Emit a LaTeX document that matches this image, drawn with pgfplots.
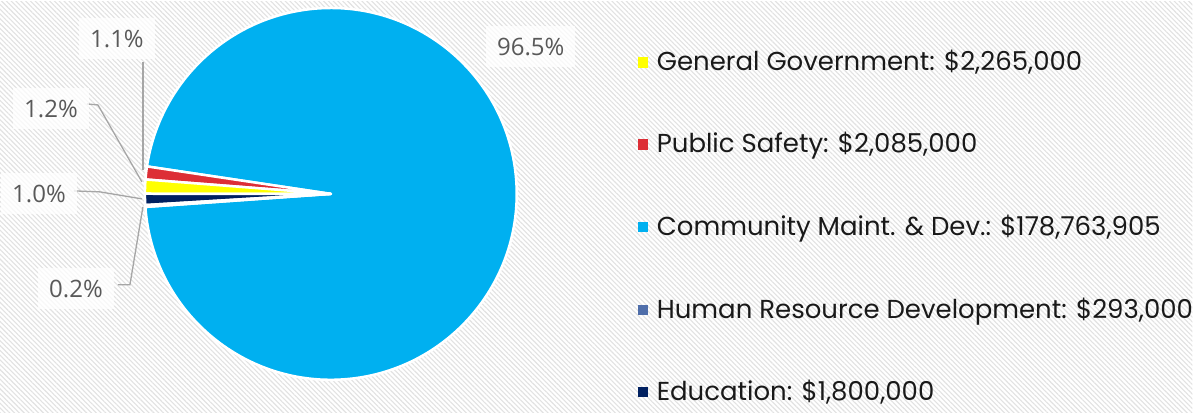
\documentclass[border=0pt]{standalone}
\usepackage{fontspec}
\setmainfont{Poppins}
\newfontfamily\lblfont{Open Sans}
\usepackage{pgfplots}
\usepackage{pgfplotstable}
\pgfplotsset{compat=1.18}
\usetikzlibrary{patterns.meta}

\definecolor{ggcol}{RGB}{255,255,0}
\definecolor{pscol}{RGB}{221,46,54}
\definecolor{cmdcol}{RGB}{0,176,240}
\definecolor{hrcol}{RGB}{79,110,170}
\definecolor{edcol}{RGB}{0,32,96}
\definecolor{lblgray}{RGB}{89,89,89}
\definecolor{leader}{RGB}{166,166,166}
\definecolor{stripe}{RGB}{226,226,226}

% slices in counter-clockwise order, starting at the top of the small group
\pgfplotstableread{
item value
PS 2085000
GG 2265000
Ed 1800000
HR 293000
CMD 178763905
}\budget

% cumulative angles (fpu, the amounts are too big for pgfmath)
\pgfkeys{/pgf/fpu=true,/pgf/fpu/output format=fixed}
\gdef\total{0}
\pgfplotstableforeachcolumnelement{value}\of\budget\as\cell{%
  \pgfmathparse{\total+\cell}\xdef\total{\pgfmathresult}}
\gdef\ang{171.5}
\pgfplotstableforeachcolumnelement{value}\of\budget\as\cell{%
  \pgfmathparse{\ang+360*\cell/\total}\xdef\ang{\pgfmathresult}%
  \expandafter\xdef\csname pieend\pgfplotstablerow\endcsname{\ang}}
\pgfkeys{/pgf/fpu=false}
\newcommand\pieend[1]{\csname pieend#1\endcsname}

\newcommand\slice[3]{%
  \filldraw[fill=#3, draw=white, line width=2.5bp, line join=round]
    (axis cs:331,219) -- ++(#1:186bp) arc[start angle=#1, end angle=#2, radius=186bp] -- cycle;}

\tikzset{pct/.style={fill=white, fill opacity=0.75, text opacity=1, text=lblgray,
    font=\lblfont\fontsize{24bp}{28bp}\selectfont, text height=17bp, text depth=0pt,
    inner xsep=11bp, inner ysep=12bp},
  leg/.style={anchor=base west, text=black!90, font=\fontsize{26bp}{30bp}\selectfont, inner sep=0pt}}

\begin{document}
\begin{tikzpicture}
\begin{axis}[
    width=1193bp, height=411bp, scale only axis,
    xmin=0, xmax=1193, ymin=0, ymax=411,
    hide axis, clip=false,
  ]
  % background
  \fill[white] (rel axis cs:0,0) rectangle (rel axis cs:1,1);
  \fill[pattern={Lines[angle=-45, distance=3.4bp, line width=1.1bp]}, pattern color=stripe]
    (rel axis cs:0,0) rectangle (rel axis cs:1,1);

  % pie
  \slice{\pieend{3}}{531.5}{cmdcol}
  \slice{171.5}{\pieend{0}}{pscol}
  \slice{\pieend{0}}{\pieend{1}}{ggcol}
  \slice{\pieend{1}}{\pieend{2}}{edcol}
  \slice{\pieend{2}}{\pieend{3}}{hrcol}

  % leader lines
  \addplot[leader, line width=1.3bp, mark=none] coordinates {(143,351) (143,243)};
  \addplot[leader, line width=1.3bp, mark=none] coordinates {(87,309) (98,308) (142,231)};
  \addplot[leader, line width=1.3bp, mark=none] coordinates {(74,222) (100,221) (142,214)};
  \addplot[leader, line width=1.3bp, mark=none] coordinates {(118,128) (130,128) (143,206)};

  % data labels
  \node[pct] at (axis cs:531,366) {96.5\%};
  \node[pct] at (axis cs:117,374) {1.1\%};
  \node[pct] at (axis cs:51,304) {1.2\%};
  \node[pct] at (axis cs:39,219) {1.0\%};
  \node[pct] at (axis cs:76,124) {0.2\%};

  % legend
  \addplot[only marks, mark=square*, mark size=4.8bp, ggcol] coordinates {(643,351)};
  \addplot[only marks, mark=square*, mark size=4.8bp, pscol] coordinates {(643,269)};
  \addplot[only marks, mark=square*, mark size=4.8bp, cmdcol] coordinates {(643,186)};
  \addplot[only marks, mark=square*, mark size=4.8bp, hrcol] coordinates {(643,103)};
  \addplot[only marks, mark=square*, mark size=4.8bp, edcol] coordinates {(643,21)};
  \node[leg] at (axis cs:657,342) {General Government: \$2,265,000};
  \node[leg] at (axis cs:657,260) {Public Safety: \$2,085,000};
  \node[leg] at (axis cs:657,177) {Community Maint. \& Dev.: \$178,763,905};
  \node[leg] at (axis cs:657,94) {Human Resource Development: \$293,000};
  \node[leg] at (axis cs:657,12) {Education: \$1,800,000};
\end{axis}
\end{tikzpicture}
\end{document}
